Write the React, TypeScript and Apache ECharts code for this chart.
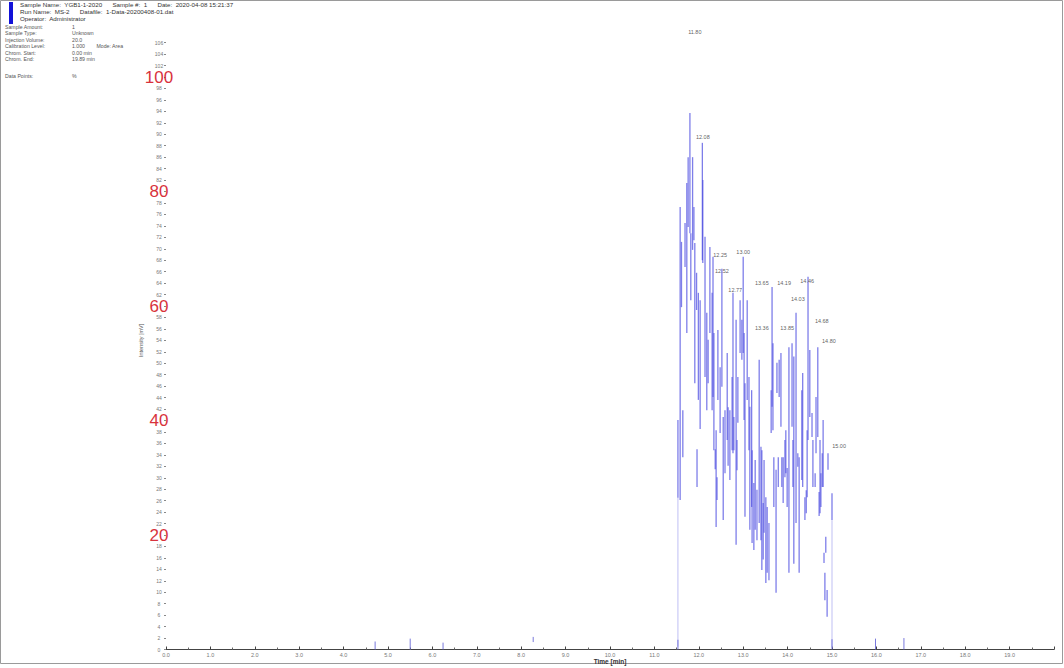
import React, { useEffect, useRef } from "react";
import * as echarts from "echarts";

// Vertical signal segments: [time (min), low, high]
const segments: [number, number, number][] = [
  [11.53, 26.5, 40.1], [11.58, 26.1, 77.3], [11.61, 59.8, 71.2], [11.64, 33.6, 41.8],
  [11.69, 66.8, 74.5], [11.73, 55.3, 81.5], [11.76, 73.8, 86.0], [11.80, 72.7, 93.7],
  [11.82, 61.0, 72.7], [11.86, 69.8, 86.0], [11.89, 71.5, 77.3], [11.91, 46.5, 71.0],
  [11.95, 59.3, 65.8], [11.96, 28.4, 35.0], [11.99, 43.6, 62.3], [12.03, 38.5, 61.0],
  [12.08, 68.0, 88.5], [12.09, 67.5, 82.0], [12.14, 47.6, 72.1], [12.18, 41.8, 58.8],
  [12.21, 46.5, 54.1], [12.25, 55.3, 70.3], [12.30, 41.8, 62.3], [12.32, 44.1, 68.6],
  [12.34, 34.8, 55.3], [12.37, 31.5, 35.0], [12.39, 21.4, 38.3], [12.41, 26.1, 30.1],
  [12.43, 43.6, 55.8], [12.48, 37.8, 49.3], [12.52, 45.9, 66.5], [12.55, 22.6, 40.6],
  [12.59, 30.8, 41.8], [12.64, 36.6, 51.8], [12.66, 32.1, 42.3], [12.70, 29.6, 41.8],
  [12.75, 34.8, 47.6], [12.77, 34.3, 62.3], [12.79, 34.8, 40.6], [12.84, 18.3, 57.6],
  [12.86, 31.3, 36.6], [12.88, 39.6, 47.6], [12.93, 51.8, 61.0], [12.97, 50.6, 57.6],
  [13.00, 51.8, 68.6], [13.02, 40.1, 55.3], [13.04, 23.2, 46.5], [13.09, 43.6, 61.0],
  [13.13, 34.8, 47.6], [13.15, 20.9, 42.4], [13.19, 24.9, 45.3], [13.20, 18.6, 34.8],
  [13.24, 17.4, 29.1], [13.27, 20.9, 33.1], [13.31, 19.1, 27.9], [13.36, 22.1, 50.6],
  [13.40, 19.1, 35.4], [13.42, 13.9, 34.8], [13.45, 15.7, 25.6], [13.47, 20.4, 33.1],
  [13.51, 11.6, 26.6], [13.54, 13.4, 24.9], [13.58, 12.1, 22.1], [13.63, 37.8, 45.3],
  [13.65, 42.4, 63.3], [13.67, 38.3, 53.5], [13.69, 24.9, 33.6], [13.74, 9.9, 31.4],
  [13.76, 44.8, 50.1], [13.79, 28.4, 33.6], [13.81, 44.1, 50.6], [13.85, 38.9, 51.8],
  [13.87, 28.4, 33.6], [13.90, 25.6, 33.6], [13.94, 30.1, 36.6], [13.96, 30.8, 38.3],
  [13.99, 24.9, 31.7], [14.03, 13.4, 52.8], [14.10, 38.9, 53.5], [14.12, 28.4, 36.6],
  [14.14, 15.0, 51.2], [14.19, 22.1, 58.8], [14.23, 31.9, 34.3], [14.26, 13.4, 33.6],
  [14.32, 29.6, 45.3], [14.34, 28.4, 48.3], [14.39, 22.6, 26.6], [14.42, 23.8, 27.8],
  [14.44, 26.6, 38.3], [14.46, 36.6, 65.1], [14.50, 40.6, 52.3], [14.55, 37.1, 41.3],
  [14.57, 28.4, 36.6], [14.62, 28.4, 30.8], [14.64, 34.3, 44.1], [14.68, 37.1, 52.8],
  [14.71, 23.3, 27.5], [14.73, 23.8, 36.6], [14.75, 24.9, 30.8], [14.78, 28.4, 34.3],
  [14.80, 28.4, 40.1], [14.82, 15.1, 16.9], [14.84, 8.6, 13.4], [14.86, 16.9, 19.7],
  [14.89, 5.7, 10.4], [14.91, 31.4, 34.3], [15.00, 22.6, 27.3],
];

// Faint thin traces
const faintSegments: [number, number, number][] = [
  [11.53, 0.5, 26.5], [15.00, 0.3, 22.6],
];

// Small baseline spikes
const spikes: [number, number, number][] = [
  [4.71, 0, 1.4], [5.50, 0, 1.9], [6.24, 0, 1.2], [8.27, 1.3, 2.2],
  [11.53, 0, 1.7], [15.00, 0, 1.8], [15.98, 0, 1.9], [16.62, 0, 2.0],
];

// Peak labels
const peakLabelX = [11.91, 12.09, 12.48, 13.0, 12.52, 12.82, 13.42, 13.92, 14.44, 14.23, 13.42, 13.99, 14.77, 14.93, 15.16];
const peakLabelY = [107.9, 89.5, 68.9, 69.4, 66.1, 62.8, 64.0, 64.0, 64.4, 61.2, 56.2, 56.2, 57.4, 53.9, 35.5];
const peakLabelText = ["11.80", "12.08", "12.25", "13.00", "12.52", "12.77", "13.65", "14.19", "14.46", "14.03", "13.36", "13.85", "14.68", "14.80", "15.00"];

const headerLines = [
  "Sample Name:  YGB1-1-2020      Sample #:  1      Date:  2020-04-08 15:21:37",
  "Run Name:  MS-2      Datafile:  1-Data-20200408-01.dat",
  "Operator:  Administrator",
];
const infoKeys = ["Sample Amount:", "Sample Type:", "Injection Volume:", "Calibration Level:", "Chrom. Start:", "Chrom. End:", "", "Data Points:"];
const infoVals = ["1", "Unknown", "20.0", "1.000        Mode: Area", "0.00 min", "19.89 min", "", "%"];

export default function App() {
  const ref = useRef<HTMLDivElement>(null);
  useEffect(() => {
    document.body.style.margin = "0";
    const chart = echarts.init(ref.current!, null, { renderer: "svg" });
    const segRender = (color: string, width: number, opacity: number) => (params: any, api: any) => {
      const x = api.value(0), lo = api.value(1), hi = api.value(2);
      const p1 = api.coord([x, lo]);
      const p2 = api.coord([x, hi]);
      return {
        type: "line",
        shape: { x1: p1[0], y1: p1[1], x2: p2[0], y2: p2[1] },
        style: { stroke: color, lineWidth: width, opacity },
      };
    };
    const graphics: any[] = [
      { type: "rect", shape: { x: 0.5, y: 0.5, width: 1062, height: 663 }, style: { fill: "none", stroke: "#9a9a9a", lineWidth: 1 } },
      { type: "rect", shape: { x: 9, y: 2, width: 4, height: 22 }, style: { fill: "#1212d8" } },
    ];
    headerLines.forEach((t, i) => {
      graphics.push({ type: "text", x: 20, y: 1.5 + i * 7, style: { text: t, fontSize: 6.2, fill: "#333", fontFamily: "Liberation Sans" } });
    });
    infoKeys.forEach((t, i) => {
      const yy = 24 + i * 6.5 + (i >= 7 ? 4 : 0);
      if (t) graphics.push({ type: "text", x: 5, y: yy, style: { text: t, fontSize: 5.2, fill: "#555", fontFamily: "Liberation Sans" } });
      if (infoVals[i]) graphics.push({ type: "text", x: 72, y: yy, style: { text: infoVals[i], fontSize: 5.2, fill: "#555", fontFamily: "Liberation Sans" } });
    });
    chart.setOption({
      animation: false,
      backgroundColor: "#fff",
      grid: { left: 166, right: 10, top: 31.2, height: 618.3, outerBoundsMode: "none", containLabel: false },
      xAxis: {
        type: "value", min: 0, max: 20, interval: 1,
        name: "Time [min]", nameLocation: "middle", nameGap: 8, nameMoveOverlap: false,
        nameTextStyle: { fontSize: 6.5, color: "#333", fontWeight: "bold", fontFamily: "Liberation Sans" },
        axisLine: { show: true, onZero: false, lineStyle: { color: "#444", width: 1 } },
        axisTick: { show: true, length: 3, inside: true, lineStyle: { color: "#444" } },
        minorTick: { show: true, splitNumber: 2, length: 2, lineStyle: { color: "#666" } },
        axisLabel: { fontSize: 5.5, color: "#777", margin: 2, showMaxLabel: false, formatter: (v: number) => v.toFixed(1), fontFamily: "Liberation Sans" },
        splitLine: { show: false },
      },
      yAxis: {
        type: "value", min: 0, max: 108, interval: 2,
        name: "Intensity [mV]", nameLocation: "middle", nameGap: 22, nameRotate: 90, nameMoveOverlap: false,
        nameTextStyle: { fontSize: 5.5, color: "#555", fontFamily: "Liberation Sans" },
        axisLine: { show: false },
        axisTick: { show: true, length: 2, lineStyle: { color: "#888" } },
        axisLabel: {
          showMaxLabel: false, margin: 7, align: "center",
          formatter: (v: number) => (v > 0 && v % 20 === 0 ? `{big|${v}}` : `{small|${v}}`),
          rich: {
            big: { fontSize: 17, color: "#d8323c", fontFamily: "Liberation Sans" },
            small: { fontSize: 5, color: "#777", fontFamily: "Liberation Sans" },
          },
        },
        splitLine: { show: false },
      },
      graphic: graphics,
      series: [
        {
          type: "custom", data: faintSegments, encode: { x: 0, y: [1, 2] },
          renderItem: segRender("#b8b8f2", 1, 0.9), z: 1,
        },
        {
          type: "custom", data: spikes, encode: { x: 0, y: [1, 2] },
          renderItem: segRender("#6a6ad8", 1, 0.9), z: 2,
        },
        {
          type: "custom", data: segments, encode: { x: 0, y: [1, 2] },
          renderItem: segRender("#4c4ce0", 1.3, 0.72), z: 3,
        },
        {
          type: "scatter", symbolSize: 0, clip: false, z: 5,
          data: peakLabelX.map((x, i) => ({ value: [x, peakLabelY[i]], name: peakLabelText[i] })),
          label: { show: true, position: "inside", formatter: "{b}", fontSize: 5.5, color: "#333", fontFamily: "Liberation Sans" },
        },
      ],
    });
    return () => chart.dispose();
  }, []);
  return <div ref={ref} style={{ position: "fixed", left: 0, top: 0, width: 1064, height: 668 }} />;
}
